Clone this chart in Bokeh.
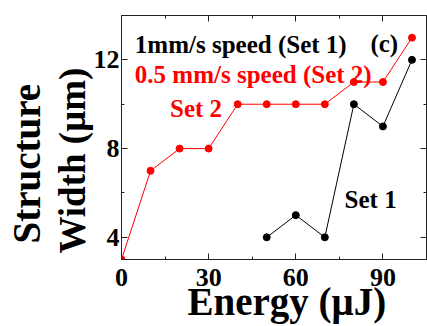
from bokeh.plotting import figure
from bokeh.models import LinearAxis, FixedTicker, Label, Range1d, Title
from bokeh.embed import file_html
from bokeh.resources import INLINE

# Data
energy_set2 = [0, 10, 20, 30, 40, 50, 60, 70, 80, 90, 100]
width_set2 = [3, 7, 8, 8, 10, 10, 10, 10, 11, 11, 13]
energy_set1 = [50, 60, 70, 80, 90, 100]
width_set1 = [4, 5, 4, 10, 9, 12]
x_ticks = [0, 30, 60, 90]
x_minor = [15, 45, 75]
y_ticks = [4, 8, 12]
y_minor = [6, 10]

FONT = "Liberation Serif"

p = figure(width=427, height=326, output_backend="svg", toolbar_location=None,
           x_range=Range1d(0, 105), y_range=Range1d(3, 14),
           min_border_left=121, min_border_right=1, min_border_top=15,
           min_border_bottom=67, background_fill_color="white",
           border_fill_color="white")
p.grid.visible = False
p.outline_line_color = "#222222"
p.outline_line_width = 1

def style(ax, ticks, minor, show_labels=True, standoff=4):
    ax.ticker = FixedTicker(ticks=ticks, minor_ticks=minor)
    ax.major_tick_in = 6
    ax.major_tick_out = 0
    ax.minor_tick_in = 3
    ax.minor_tick_out = 0
    ax.axis_line_color = "#222222"
    ax.major_tick_line_color = "#222222"
    ax.minor_tick_line_color = "#222222"
    if show_labels:
        ax.major_label_text_font = FONT
        ax.major_label_text_font_style = "bold"
        ax.major_label_text_font_size = "26px"
        ax.major_label_text_color = "black"
        ax.major_label_standoff = standoff
    else:
        ax.major_label_overrides = {t: "" for t in ticks}
        ax.major_label_text_font_size = "1px"
        ax.major_label_standoff = 0
        ax.axis_label_standoff = 0

bottom_axis = p.below[0]
left_axis = p.left[0]
style(bottom_axis, x_ticks, x_minor, standoff=9)
style(left_axis, y_ticks, y_minor, standoff=2)

top = LinearAxis()
style(top, x_ticks, x_minor, show_labels=False)
p.add_layout(top, "above")
right = LinearAxis()
style(right, y_ticks, y_minor, show_labels=False)
p.add_layout(right, "right")

# axis titles as Titles in side panels
def title(text, place, standoff, offset, valign, size="37px"):
    t = Title(text=text, align="left", vertical_align=valign, text_font=FONT,
              text_font_style="bold", text_font_size=size, text_color="black",
              standoff=standoff, offset=offset)
    p.add_layout(t, place)

title("Energy (μJ)", "below", -18, 66, "top", size="39px")
title("Width (μm)", "left", -5, 6, "bottom")
title("Structure", "left", 6, 16, "top", size="39px")

p.line(energy_set2, width_set2, line_color="#ff0000", line_width=1)
p.scatter(energy_set2, width_set2, size=7, color="#ff0000")
p.line(energy_set1, width_set1, line_color="black", line_width=1)
p.scatter(energy_set1, width_set1, size=7, color="black")

def lab(x, y, text, color="black", size="25px"):
    p.add_layout(Label(x=x, y=y, text=text, text_color=color, text_font=FONT,
                       text_font_style="bold", text_font_size=size,
                       text_align="left", text_baseline="alphabetic"))

lab(4.6, 12.7, "1mm/s speed (Set 1)")
lab(85.7, 12.72, "(c)")
lab(4.6, 11.33, "0.5 mm/s speed (Set 2)", color="#ff0000")
lab(16.7, 9.79, "Set 2", color="#ff0000")
lab(76.8, 5.72, "Set 1")

open("out.html", "w").write(file_html(p, INLINE))
